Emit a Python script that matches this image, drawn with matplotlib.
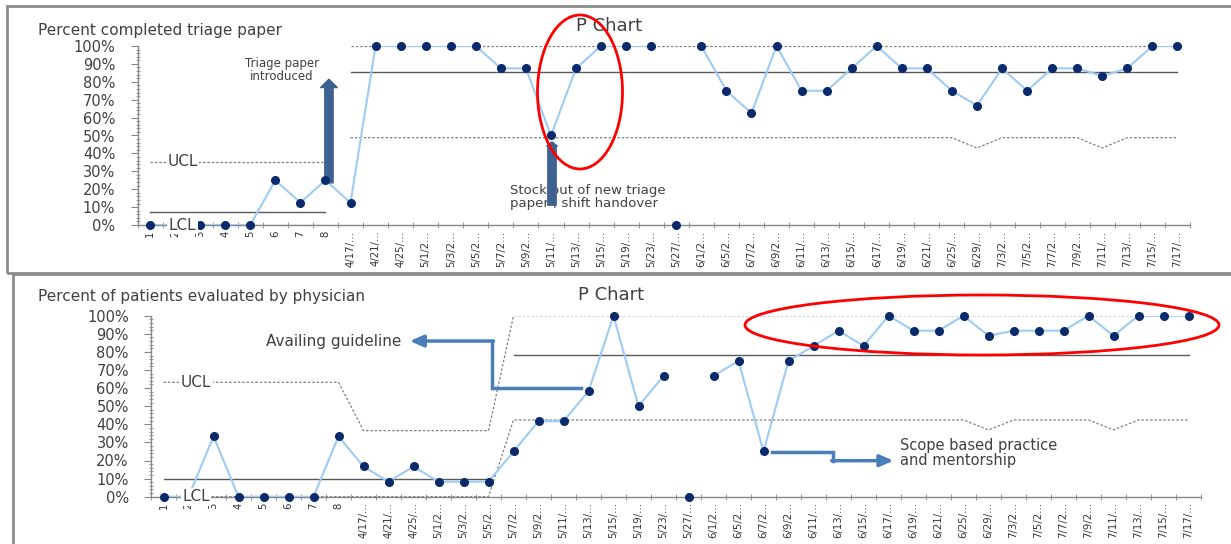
import numpy as np
import matplotlib
matplotlib.use('Agg')
import matplotlib.pyplot as plt
from matplotlib.patches import Ellipse, Rectangle, FancyArrowPatch

plt.rcParams['font.family'] = ['DejaVu Sans']

# Categorías del eje x (primeros 8 días numerados, luego fechas truncadas como en Excel)
etiquetas = ['1', '2', '3', '4', '5', '6', '7', '8',
             '4/17/…', '4/21/…', '4/25/…', '5/1/2…', '5/3/2…', '5/5/2…', '5/7/2…',
             '5/9/2…', '5/11/…', '5/13/…', '5/15/…', '5/19/…', '5/23/…', '5/27/…',
             '6/1/2…', '6/5/2…', '6/7/2…', '6/9/2…', '6/11/…', '6/13/…', '6/15/…',
             '6/17/…', '6/19/…', '6/21/…', '6/25/…', '6/29/…', '7/3/2…', '7/5/2…',
             '7/7/2…', '7/9/2…', '7/11/…', '7/13/…', '7/15/…', '7/17/…']

# Punto sin línea de unión (dato aislado)
sin_linea = ['5/27/…']

# --- Panel 1: porcentaje de hojas de triage completas ---
triage = [0, 0, 0, 0, 0, 25, 12.5, 25,
          12.5, 100, 100, 100, 100, 100, 87.5, 87.5, 50, 87.5, 100, 100, 100, 0,
          100, 75, 62.5, 100, 75, 75, 87.5, 100, 87.5, 87.5, 75, 66.7, 87.5, 75,
          87.5, 87.5, 83.3, 87.5, 100, 100]
lc_triage = [7.5, 7.5, 7.5, 7.5, 7.5, 7.5, 7.5, 7.5,
             85.6, 85.6, 85.6, 85.6, 85.6, 85.6, 85.6, 85.6, 85.6, 85.6, 85.6, 85.6, 85.6, 85.6,
             85.6, 85.6, 85.6, 85.6, 85.6, 85.6, 85.6, 85.6, 85.6, 85.6, 85.6, 85.6, 85.6, 85.6,
             85.6, 85.6, 85.6, 85.6, 85.6, 85.6]
lcs_triage = [35.4, 35.4, 35.4, 35.4, 35.4, 35.4, 35.4, 35.4,
              100, 100, 100, 100, 100, 100, 100, 100, 100, 100, 100, 100, 100, 100,
              100, 100, 100, 100, 100, 100, 100, 100, 100, 100, 100, 100, 100, 100,
              100, 100, 100, 100, 100, 100]
lci_triage = [0, 0, 0, 0, 0, 0, 0, 0,
              48.8, 48.8, 48.8, 48.8, 48.8, 48.8, 48.8, 48.8, 48.8, 48.8, 48.8, 48.8, 48.8, 48.8,
              48.8, 48.8, 48.8, 48.8, 48.8, 48.8, 48.8, 48.8, 48.8, 48.8, 48.8, 43.0, 48.8, 48.8,
              48.8, 48.8, 43.0, 48.8, 48.8, 48.8]
fase2_triage = 8          # inicio de la fase 2 (límites separados)

# --- Panel 2: porcentaje de pacientes evaluados por médico ---
medico = [0, 0, 33.3, 0, 0, 0, 0, 33.3,
          16.7, 8.3, 16.7, 8.3, 8.3, 8.3, 25, 41.7, 41.7, 58.3, 100, 50, 66.7, 0,
          66.7, 75, 25, 75, 83.3, 91.7, 83.3, 100, 91.7, 91.7, 100, 88.9, 91.7, 91.7,
          91.7, 100, 88.9, 100, 100, 100]
lc_medico = [10, 10, 10, 10, 10, 10, 10, 10, 10, 10, 10, 10, 10, 10,
             78.3, 78.3, 78.3, 78.3, 78.3, 78.3, 78.3, 78.3, 78.3, 78.3, 78.3, 78.3, 78.3, 78.3,
             78.3, 78.3, 78.3, 78.3, 78.3, 78.3, 78.3, 78.3, 78.3, 78.3, 78.3, 78.3, 78.3, 78.3]
lcs_medico = [63.2, 63.2, 63.2, 63.2, 63.2, 63.2, 63.2, 63.2,
              36.5, 36.5, 36.5, 36.5, 36.5, 36.5,
              100, 100, 100, 100, 100, 100, 100, 100, 100, 100, 100, 100, 100, 100,
              100, 100, 100, 100, 100, 100, 100, 100, 100, 100, 100, 100, 100, 100]
lci_medico = [0, 0, 0, 0, 0, 0, 0, 0, 0, 0, 0, 0, 0, 0,
              42.4, 42.4, 42.4, 42.4, 42.4, 42.4, 42.4, 42.4, 42.4, 42.4, 42.4, 42.4, 42.4, 42.4,
              42.4, 42.4, 42.4, 42.4, 42.4, 36.9, 42.4, 42.4, 42.4, 42.4, 36.9, 42.4, 42.4, 42.4]
fase2_medico = 14

# Colores
AZUL_LINEA = '#9DCBF3'
AZUL_PUNTO = '#0B2A6B'
GRIS_TXT = '#404040'
GRIS_EJE = '#868686'
GRIS_LC = '#595959'
GRIS_LIM = '#7F7F7F'

W, H = 1231, 544
fig = plt.figure(figsize=(W / 100, H / 100), dpi=100)


def px(x0, y0, x1, y1):
    """caja en pixeles -> fracción de figura"""
    return [x0 / W, 1 - y1 / H, (x1 - x0) / W, (y1 - y0) / H]


def preparar_eje(ax):
    x = np.arange(len(etiquetas))
    ax.set_xlim(-0.5, len(etiquetas) - 0.5)
    ax.set_ylim(0, 1)
    for s in ['top', 'right']:
        ax.spines[s].set_visible(False)
    for s in ['left', 'bottom']:
        ax.spines[s].set_color(GRIS_EJE)
        ax.spines[s].set_linewidth(1.0)
    ax.set_xticks(x)
    ax.set_xticklabels(etiquetas, rotation=90, fontsize=7.3, color='#333333')
    ax.set_xticks(np.arange(-0.5, len(etiquetas), 1), minor=True)
    ax.tick_params(axis='x', which='major', length=0, pad=4)
    ax.tick_params(axis='x', which='minor', length=5, direction='inout', color=GRIS_EJE)
    ax.set_yticks(np.arange(0, 1.01, 0.1))
    ax.set_yticklabels([f'{int(round(v * 100))}%' for v in np.arange(0, 1.01, 0.1)],
                       fontsize=10.5, color=GRIS_TXT)
    ax.set_yticks(np.arange(0, 1.001, 0.02), minor=True)
    ax.tick_params(axis='y', which='major', length=5, direction='out', color=GRIS_EJE, pad=11)
    ax.tick_params(axis='y', which='minor', length=3, direction='inout', color=GRIS_EJE)
    return x


def serie(ax, x, valores):
    v = np.array(valores, dtype=float) / 100
    linea = v.copy()
    for e in sin_linea:
        linea[etiquetas.index(e)] = np.nan
    ax.plot(x, linea, color=AZUL_LINEA, lw=1.5, zorder=3)
    ax.plot(x, v, ls='none', marker='o', ms=5.5, color=AZUL_PUNTO, zorder=4, clip_on=False)


def limites(ax, x, lc, lcs, lci, fase2, continuos):
    lc = np.array(lc) / 100
    lcs = np.array(lcs) / 100
    lci = np.array(lci) / 100
    ax.plot(x[:fase2], lc[:fase2], color=GRIS_LC, lw=1.0, zorder=2)
    ax.plot(x[fase2:], lc[fase2:], color=GRIS_LC, lw=1.0, zorder=2)
    estilo = dict(color=GRIS_LIM, lw=0.9, ls=(0, (2, 1.5)), zorder=2)
    if continuos:
        ax.plot(x, lcs, **estilo)
        ax.plot(x, lci, **estilo)
    else:
        ax.plot(x[:fase2], lcs[:fase2], **estilo)
        ax.plot(x[fase2:], lcs[fase2:], **estilo)
        ax.plot(x[:fase2], lci[:fase2], **estilo)
        ax.plot(x[fase2:], lci[fase2:], **estilo)
    caja = dict(facecolor='white', edgecolor='none', pad=1)
    ax.text(1.3, lcs[0], 'UCL', fontsize=11, color=GRIS_TXT, ha='center', va='center',
            bbox=caja, zorder=5)
    ax.text(1.3, lci[0], 'LCL', fontsize=11, color=GRIS_TXT, ha='center', va='center',
            bbox=caja, zorder=5, clip_on=False)


# ================= Panel superior =================
ax1 = fig.add_axes(px(137.5, 46, 1190, 225))
x = preparar_eje(ax1)
limites(ax1, x, lc_triage, lcs_triage, lci_triage, fase2_triage, continuos=False)
serie(ax1, x, triage)

# Flecha "Triage paper introduced"
ax1.add_patch(FancyArrowPatch((7.14, 0.22), (7.14, 0.83), mutation_scale=10, color='#3D6190',
                              arrowstyle='simple,head_width=1.2,head_length=0.6,tail_width=0.6',
                              zorder=3))
ax1.text(5.25, 0.866, 'Triage paper\nintroduced', fontsize=8.5, color=GRIS_TXT,
         ha='center', va='center', linespacing=1.0)

# Barra "Stock out..."
ax1.text(14.37, 0.155, 'Stock out of new triage\npaper , shift handover', fontsize=9.5,
         color=GRIS_TXT, ha='left', va='center', linespacing=1.0, zorder=2)
ax1.add_patch(FancyArrowPatch((16.04, 0.095), (16.04, 0.48), mutation_scale=10, color='#3D6190',
                              arrowstyle='simple,head_width=0.75,head_length=0.3,tail_width=0.6',
                              zorder=3))

fig.text(38 / W, 1 - 30 / H, 'Percent completed triage paper', fontsize=11,
         color=GRIS_TXT, ha='left', va='center')
fig.text(609 / W, 1 - 26 / H, 'P Chart', fontsize=13, color=GRIS_TXT, ha='center', va='center')
fig.patches.append(Ellipse((580 / W, 1 - 92 / H), 85 / W, 154 / H, transform=fig.transFigure,
                           fill=False, edgecolor='#FF0000', lw=2, zorder=6))

# ================= Panel inferior =================
ax2 = fig.add_axes(px(151, 315.7, 1201, 496.7))
x = preparar_eje(ax2)
limites(ax2, x, lc_medico, lcs_medico, lci_medico, fase2_medico, continuos=True)
serie(ax2, x, medico)

AZUL_FLECHA = '#4A7EBB'
# Flecha en escalón "Availing guideline"
ax2.plot([16.7, 13.15, 13.15], [0.60, 0.60, 0.86], color=AZUL_FLECHA, lw=2.5, zorder=3,
         solid_joinstyle='miter')
ax2.annotate('', xy=(9.85, 0.86), xytext=(13.2, 0.86),
             arrowprops=dict(arrowstyle='-|>,head_width=0.35,head_length=0.8',
                             color=AZUL_FLECHA, lw=2.5, shrinkA=0, shrinkB=0))
ax2.text(9.5, 0.86, 'Availing guideline', fontsize=11, color=GRIS_TXT, ha='right', va='center')

# Flecha en escalón "Scope based practice"
ax2.plot([24.35, 26.78, 26.78], [0.245, 0.245, 0.199], color=AZUL_FLECHA, lw=2.5, zorder=3,
         solid_joinstyle='miter')
ax2.annotate('', xy=(29.2, 0.199), xytext=(26.73, 0.199),
             arrowprops=dict(arrowstyle='-|>,head_width=0.35,head_length=0.8',
                             color=AZUL_FLECHA, lw=2.5, shrinkA=0, shrinkB=0))
ax2.text(29.45, 0.243, 'Scope based practice\nand mentorship', fontsize=10.5, color=GRIS_TXT,
         ha='left', va='center', linespacing=1.0)

fig.text(38 / W, 1 - 297 / H, 'Percent of patients evaluated by physician', fontsize=11,
         color=GRIS_TXT, ha='left', va='center')
fig.text(611 / W, 1 - 295 / H, 'P Chart', fontsize=13, color=GRIS_TXT, ha='center', va='center')
fig.patches.append(Ellipse((982 / W, 1 - 325 / H), 474 / W, 60 / H, transform=fig.transFigure,
                           fill=False, edgecolor='#FF0000', lw=2, zorder=6))

# Marcos de los paneles
fig.patches.append(Rectangle((7 / W, 1 - 273 / H), 1.0, 267 / H, transform=fig.transFigure,
                             fill=False, edgecolor='#8C8C8C', lw=2))
fig.patches.append(Rectangle((13 / W, -0.1), 1.0, 1 - 274 / H + 0.1, transform=fig.transFigure,
                             fill=False, edgecolor='#8C8C8C', lw=2))

fig.savefig('out.png', dpi=100)
